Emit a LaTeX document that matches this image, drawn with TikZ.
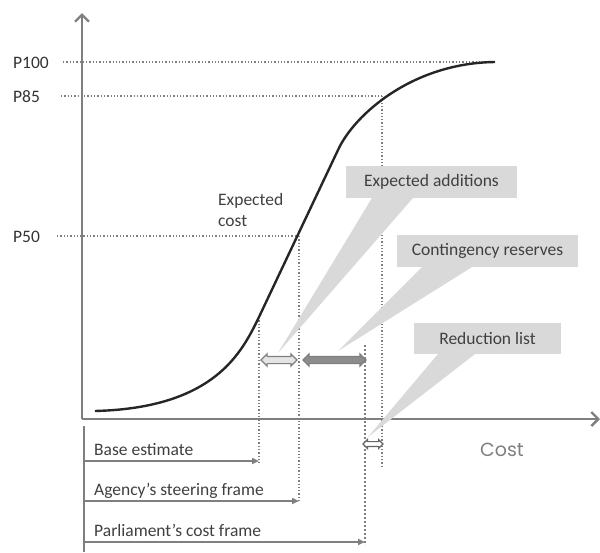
\documentclass[tikz,border=0pt]{standalone}
\usepackage{fontspec}
\setmainfont{Carlito}
\newfontfamily\costfont{Poppins}
\usetikzlibrary{arrows.meta,shapes.arrows,calc}
\definecolor{axisgray}{HTML}{7F7F7F}
\definecolor{txtgray}{HTML}{404040}
\definecolor{callfill}{HTML}{D9D9D9}
\definecolor{curvecol}{HTML}{262626}
\tikzset{
  axisline/.style ={draw=axisgray, line width=2.6pt, -{Straight Barb[length=7pt,width=14pt,line width=2.4pt]}},
  guide/.style    ={draw=axisgray, dotted, line width=1.3pt},
  guidebold/.style={guide, line width=2pt},
  curveline/.style={draw=curvecol, line width=2.4pt},
  framear/.style  ={draw=axisgray, line width=1.8pt, -{Triangle[length=7pt,width=6pt]}},
  lbl/.style      ={font=\fontsize{17.5}{21}\selectfont, text=txtgray, inner sep=0pt},
  plbl/.style     ={font=\fontsize{17.5}{21}\selectfont, text=black!80, inner sep=0pt, anchor=base west},
  callbox/.style  ={fill=callfill, inner sep=0pt, font=\fontsize{17.5}{21}\selectfont, text=txtgray},
  dblar/.style    ={double arrow, draw=axisgray, line width=1.2pt, inner sep=3pt,
                    double arrow head extend=2.5pt, double arrow head indent=0pt},
}

\begin{document}
\begin{tikzpicture}[x=1pt,y=-1pt]
\useasboundingbox (0,0) rectangle (600,552);
% axes
\coordinate (O) at (82,419);
\coordinate (ytop) at (82,13);
\coordinate (xend) at (600,419);
\draw[axisline] (O) -- (ytop);
\draw[axisline] (O) -- (xend);

% probability levels
\coordinate (c100) at (495,62);
\coordinate (c85) at (382,96);
\coordinate (c50) at (299,236);
\coordinate (cbase) at (259,317);
\node[plbl] (p100) at (13,68) {P100};
\node[plbl] (p85) at (13,102) {P85};
\node[plbl] (p50) at (13,242) {P50};
\draw[guide] (63,62) -- (c100);
\draw[guide] (61,96) -- (c85);
\draw[guide] (57,236) -- (c50);

% vertical guides
\coordinate (vbase) at (259,463);
\coordinate (vagency) at (299,503);
\coordinate (vparl) at (365,545);
\coordinate (vparltop) at (365,345);
\coordinate (v85) at (382,468);
\draw[guide] (cbase) -- (vbase);
\draw[guide] (c50) -- (vagency);
\draw[guidebold] (vparltop) -- (vparl);
\draw[guide] (c85) -- (v85);

% cumulative cost curve
\coordinate (cstart) at (95,411);
\coordinate (cbend) at (338,150);
\draw[curveline] (cstart) .. controls (215,408) and (242,352) .. (cbase)
  -- (cbend) .. controls (354,115) and (412,63) .. (c100);

\node[lbl, anchor=north west, align=left] (expcost) at (218,193) {Expected\\cost};

% frames below the axis
\coordinate (ftop) at (84,426);
\coordinate (fbot) at (84,552);
\draw[draw=axisgray, line width=2pt] (ftop) -- (fbot);
\node[lbl, anchor=base west] (base) at (94,455) {Base estimate};
\node[lbl, anchor=base west] (agency) at (94,495) {Agency’s steering frame};
\node[lbl, anchor=base west] (parl) at (94,536) {Parliament’s cost frame};
\draw[framear] (84,461) -- (259,461);
\draw[framear] (84,501) -- (299,501);
\draw[framear] (84,542) -- (365,542);

\node[lbl, font=\costfont\fontsize{19}{21}\selectfont, text=axisgray] (cost) at (502,450) {Cost};

% margins between frames
\node[dblar, fill=black!10, minimum height=36pt] (addar) at (279,360) {};
\node[dblar, fill=black!45, minimum height=63pt] (resar) at (334.5,360) {};
\node[dblar, fill=white, draw=black!60, inner sep=1.8pt, double arrow head extend=2pt, minimum height=20pt] (redar) at (373,444) {};

% callouts
\coordinate (tipA) at (278,353);
\coordinate (tipB) at (338,351);
\coordinate (tipC) at (368,437);
\node[callbox, minimum width=171pt, minimum height=32pt] (ea) at (431.5,182) {Expected additions};
\node[callbox, minimum width=181pt, minimum height=32pt] (cr) at (487.5,251) {Contingency reserves};
\node[callbox, minimum width=147pt, minimum height=31pt] (rl) at (487.5,338.5) {Reduction list};
\fill[callfill] ($(ea.south west)+(26,0)$) -- (tipA) -- ($(ea.south west)+(67,0)$) -- cycle;
\fill[callfill] ($(cr.south west)+(25,0)$) -- (tipB) -- ($(cr.south west)+(75,0)$) -- cycle;
\fill[callfill] ($(rl.south west)+(24,0)$) -- (tipC) -- ($(rl.south west)+(61,0)$) -- cycle;
\end{tikzpicture}
\end{document}
